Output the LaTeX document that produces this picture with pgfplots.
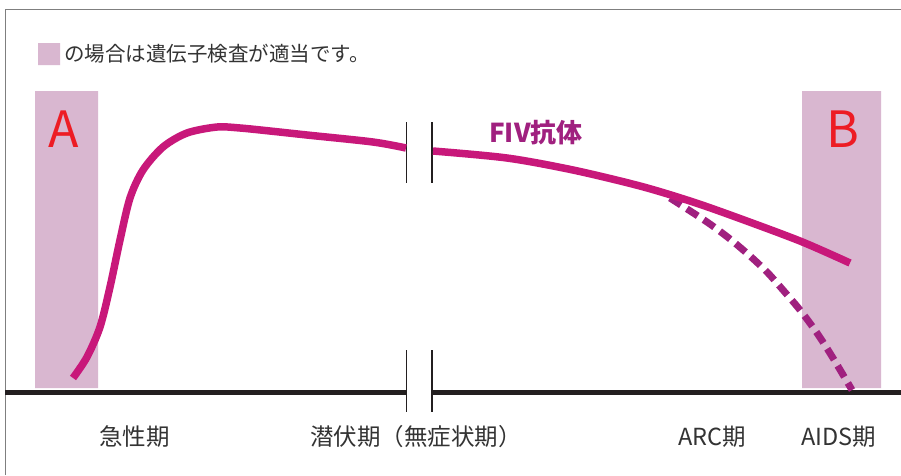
\documentclass[border=0pt]{standalone}
\usepackage{fontspec}
\setmainfont{Noto Sans CJK JP}
\usepackage{pgfplots}
\pgfplotsset{compat=1.18}
\definecolor{boxpink}{HTML}{D9B7D0}
\definecolor{fivline}{HTML}{C8187A}
\definecolor{fivdash}{HTML}{A0207F}
\definecolor{lblred}{HTML}{ED1C24}
\definecolor{txtgray}{HTML}{333333}
\definecolor{framegray}{HTML}{7F7F7F}
\definecolor{axblack}{HTML}{231F20}

\begin{document}
\begin{tikzpicture}
  \useasboundingbox (0,0) rectangle (901pt,475pt);
  \fill[white] (0,0) rectangle (901pt,475pt);
  \begin{axis}[width=901pt, height=475pt, scale only axis,
      xmin=0, xmax=901, ymin=0, ymax=475, y dir=reverse,
      hide axis, clip=false]
    % frame
    \addplot[framegray, line width=1.5pt] coordinates {(5.5,475) (5.5,9.5) (901,9.5)};
    % pink periods
    \addplot[fill=boxpink, draw=none] coordinates {(35,91) (98,91) (98,388) (35,388) (35,91)};
    \addplot[fill=boxpink, draw=none] coordinates {(802,91) (881,91) (881,388) (802,388) (802,91)};
    \addplot[fill=boxpink, draw=none] coordinates {(38,43) (60,43) (60,65) (38,65) (38,43)};
    % time axis with break
    \addplot[axblack, line width=5pt] coordinates {(5,392) (407,392)};
    \addplot[axblack, line width=5pt] coordinates {(432,392) (901,392)};
    \addplot[axblack, line width=1.8pt] coordinates {(406.5,350) (406.5,412)};
    \addplot[axblack, line width=1.8pt] coordinates {(432,350) (432,412)};
    \addplot[axblack, line width=1.8pt] coordinates {(406.5,122) (406.5,183)};
    \addplot[axblack, line width=1.8pt] coordinates {(432,122) (432,183)};
    % dashed branch
    \addplot[fivdash, line width=7pt, smooth, dash pattern=on 13pt off 7pt] coordinates {
      (670,198) (707,222) (730,239) (750,256) (767,272) (783,290)
      (800,310) (817,333) (833,358) (852,390)};
    % FIV antibody curve
    \addplot[fivline, line width=7.5pt, smooth] coordinates {
      (73,378) (87,357) (100,327) (110,287) (120,240) (130,198) (143,170)
      (163,147) (187,133) (217,127) (240,128) (270,131) (307,135) (373,142) (406,148)};
    \addplot[fivline, line width=7.5pt, smooth] coordinates {
      (433,151) (507,158) (573,170) (640,186) (690,201) (733,216) (800,241) (850,263)};
    % texts
    \node[anchor=west, inner sep=0, text=txtgray, font=\fontsize{20.5}{24}\selectfont] at (axis cs:64,54) {の場合は遺伝子検査が適当です。};
    \node[text=lblred, inner sep=0, font=\fontsize{50}{54}\selectfont] at (axis cs:64,129) {A};
    \node[text=lblred, inner sep=0, font=\fontsize{50}{54}\selectfont] at (axis cs:843,129) {B};
    \node[text=fivdash, inner sep=0, font=\fontsize{26}{29}\selectfont\bfseries] at (axis cs:536,133) {FIV抗体};
    \node[anchor=west, inner sep=0, text=txtgray, font=\fontsize{23.5}{26}\selectfont] at (axis cs:99,437) {急性期};
    \node[anchor=west, inner sep=0, text=txtgray, font=\fontsize{23.5}{26}\selectfont] at (axis cs:310,437) {潜伏期（無症状期）};
    \node[anchor=west, inner sep=0, text=txtgray, font=\fontsize{23.5}{26}\selectfont] at (axis cs:678,437) {ARC期};
    \node[anchor=west, inner sep=0, text=txtgray, font=\fontsize{23.5}{26}\selectfont] at (axis cs:801,437) {AIDS期};
  \end{axis}
\end{tikzpicture}
\end{document}
